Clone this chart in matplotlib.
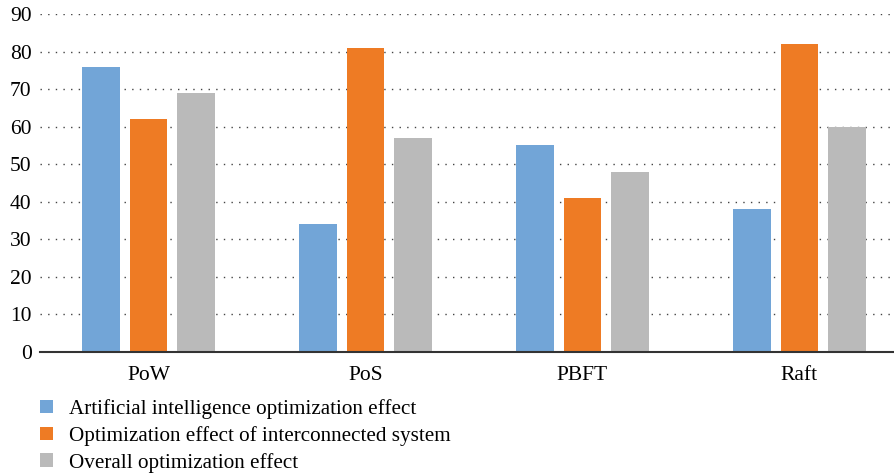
import numpy as np
import matplotlib.pyplot as plt
from matplotlib.patches import Patch

plt.rcParams["font.family"] = ["Liberation Serif", "DejaVu Serif"]

# 共识算法优化效果数据
categories = ["PoW", "PoS", "PBFT", "Raft"]
ai_effect = [76, 34, 55, 38]
interconnect_effect = [62, 81, 41, 82]
overall_effect = [69, 57, 48, 60]

series_names = [
    "Artificial intelligence optimization effect",
    "Optimization effect of interconnected system",
    "Overall optimization effect",
]
colors = ["#72A5D7", "#EE7B24", "#BABABA"]

fig = plt.figure(figsize=(8.95, 4.75), dpi=100)
# 坐标区右侧超出画布一点，最后一组留白被裁掉
ax = fig.add_axes([40 / 895, 123 / 475, 868 / 895, 338 / 475])

x = np.arange(len(categories))
width = 0.175
offset = 0.221
for i, (vals, c) in enumerate(zip([ai_effect, interconnect_effect, overall_effect], colors)):
    ax.bar(x + (i - 1) * offset, vals, width=width, color=c, zorder=3)

ax.set_xlim(-0.5, 3.5)
ax.set_ylim(0, 90)
ax.set_yticks(range(0, 91, 10))
ax.set_xticks(x)
ax.set_xticklabels(categories, fontsize=15.5)
ax.tick_params(axis="y", labelsize=15.5, length=0, pad=6)
ax.tick_params(axis="x", length=0, pad=10)

ax.grid(axis="y", linestyle=(0, (1, 4.5)), color="#444444", linewidth=1.0, zorder=0)
for s in ["top", "right", "left"]:
    ax.spines[s].set_visible(False)
ax.spines["bottom"].set_color("#333333")
ax.spines["bottom"].set_linewidth(1.5)
ax.spines["bottom"].set_zorder(4)

handles = [Patch(facecolor=c, edgecolor="none") for c in colors]
fig.legend(handles, series_names, loc="upper left", bbox_to_anchor=(40 / 895, 1 - 399 / 475),
           frameon=False, fontsize=15.2, handlelength=0.62, handleheight=0.62,
           handletextpad=0.75, labelspacing=0.33, borderaxespad=0, borderpad=0)

plt.savefig("out.png", dpi=100)
plt.close()
